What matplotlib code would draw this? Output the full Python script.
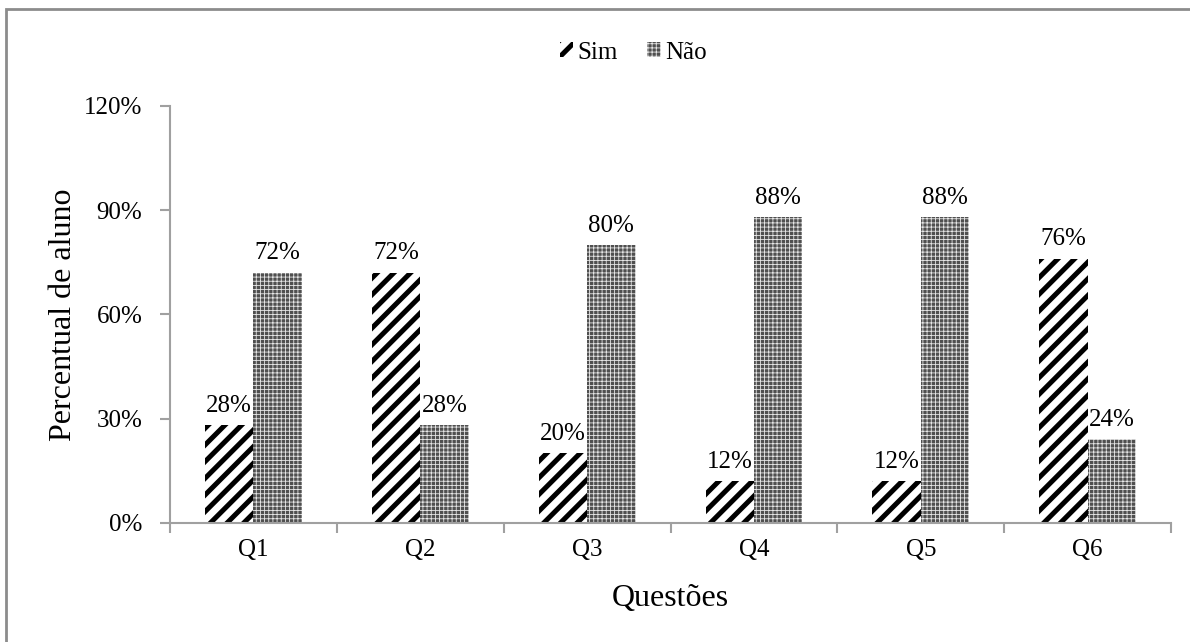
import matplotlib
matplotlib.use("Agg")
import matplotlib.pyplot as plt
import numpy as np
from matplotlib.patches import Rectangle, Patch

plt.rcParams['font.family'] = ['Liberation Serif', 'DejaVu Serif']
plt.rcParams['hatch.linewidth'] = 3.6

questions = ["Q1", "Q2", "Q3", "Q4", "Q5", "Q6"]
sim = [28, 72, 20, 12, 12, 76]
nao = [72, 28, 80, 88, 88, 24]
yticks = [0, 30, 60, 90, 120]

NAO_FACE = "#4f4f4f"
NAO_DOTS = "#e6e6e6"
NAO_HATCH_LW = 0.6

fig = plt.figure(figsize=(11.9, 6.42), dpi=100)
ax = fig.add_axes([0.1429, 0.1858, 0.8412, 0.6491])

x = np.arange(len(questions))
w = 0.29

bars_sim = ax.bar(x - w / 2, sim, width=w, facecolor="white", edgecolor="black",
                  hatch="//", linewidth=0)
bars_nao = ax.bar(x + w / 2, nao, width=w, facecolor=NAO_FACE, edgecolor=NAO_DOTS,
                  hatch="++++", linewidth=0)
for b in bars_nao:
    if hasattr(b, "set_hatch_linewidth"):
        b.set_hatch_linewidth(NAO_HATCH_LW)

ax.bar_label(bars_sim, labels=[f"{v}%" for v in sim], padding=6, fontsize=18)
ax.bar_label(bars_nao, labels=[f"{v}%" for v in nao], padding=6, fontsize=18)

ax.set_ylim(0, 120)
ax.set_xlim(-0.5, len(questions) - 0.5)
ax.set_yticks(yticks)
ax.set_yticklabels([f"{t}%" for t in yticks], fontsize=18)

ax.set_xticks(np.arange(len(questions) + 1) - 0.5)
ax.set_xticklabels([])
ax.set_xticks(x, minor=True)
ax.set_xticklabels(questions, minor=True, fontsize=18)
ax.tick_params(axis="x", which="major", length=7, direction="out", color="#a0a0a0", width=1.5)
ax.tick_params(axis="x", which="minor", length=0, pad=12)
ax.tick_params(axis="y", length=7, direction="out", color="#a0a0a0", width=1.5, pad=13)

for s in ["top", "right"]:
    ax.spines[s].set_visible(False)
for s in ["left", "bottom"]:
    ax.spines[s].set_color("#a0a0a0")
    ax.spines[s].set_linewidth(1.5)

ax.set_xlabel("Questões", fontsize=23, labelpad=16)
ax.set_ylabel("Percentual de aluno", fontsize=23, labelpad=4)

handles = [Patch(facecolor="white", edgecolor="black", hatch="//", linewidth=0),
           Patch(facecolor=NAO_FACE, edgecolor=NAO_DOTS, hatch="++++", linewidth=0)]
leg = fig.legend(handles, ["Sim", "Não"], loc="center", bbox_to_anchor=(0.532, 0.918),
                 ncol=2, frameon=False, fontsize=18, handlelength=0.55, handleheight=0.55,
                 handletextpad=0.15, columnspacing=1.2)
lp = leg.get_patches()
if len(lp) == 2 and hasattr(lp[1], "set_hatch_linewidth"):
    lp[1].set_hatch_linewidth(NAO_HATCH_LW)

# outer frame
fig.patches.append(Rectangle((6 / 1190, -0.1), 1.2, 1 - 9 / 642 + 0.1,
                             transform=fig.transFigure, fill=False,
                             edgecolor="#8c8c8c", linewidth=2))

fig.savefig("out.png", dpi=100)
